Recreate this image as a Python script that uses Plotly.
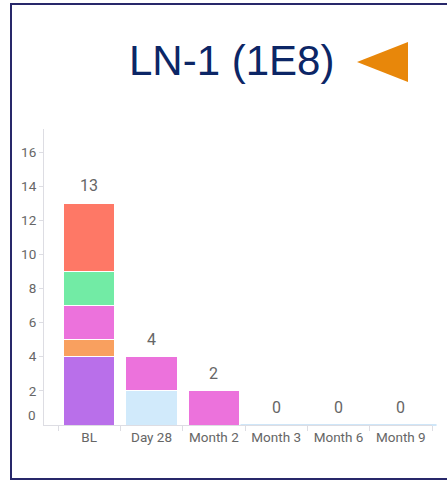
import plotly.graph_objects as go

categories = ["BL", "Day 28", "Month 2", "Month 3", "Month 6", "Month 9"]
light_blue = [None, 2, None, 0, 0, 0]
purple = [4, None, None, None, None, None]
orange = [1, None, None, None, None, None]
pink = [2, 2, 2, None, None, None]
green = [2, None, None, None, None, None]
coral = [4, None, None, None, None, None]
totals = [13, 4, 2, 0, 0, 0]
y_ticks = [2, 4, 6, 8, 10, 12, 14, 16]

series = [
    (light_blue, "#d1eafb"),
    (purple, "#b96fea"),
    (orange, "#f9a05f"),
    (pink, "#ec72dc"),
    (green, "#72eba5"),
    (coral, "#fe7866"),
]

fig = go.Figure()
for vals, col in series:
    fig.add_trace(go.Bar(x=categories, y=vals, marker=dict(color=col, line=dict(color="white", width=1)),
                         hoverinfo="skip", showlegend=False))

# zero-height light blue bars shown as a thin baseline stroke
zx = [c for c, v in zip(categories, light_blue) if v == 0]
zy = [v for v in light_blue if v == 0]
fig.add_trace(go.Scatter(x=zx, y=zy, mode="markers", hoverinfo="skip", showlegend=False, cliponaxis=False,
                         marker=dict(symbol="line-ew-open", size=51, color="#cfe6f8",
                                     line=dict(color="#cfe6f8", width=2))))

for c, t in zip(categories, totals):
    fig.add_annotation(x=c, y=t, text=str(t), showarrow=False, yanchor="bottom", yshift=6,
                       font=dict(family="Roboto", size=16, color="#666666"))

fig.add_annotation(xref="paper", x=0, y=0, text="0", showarrow=False, xanchor="right", xshift=-6,
                   yshift=10, font=dict(family="Roboto", size=13.5, color="#666666"))

# title
fig.add_annotation(xref="paper", yref="paper", x=(231 - 44) / 388, y=(425 - 60) / 296,
                   text="LN-1 (1E8)", showarrow=False, xanchor="center", yanchor="middle",
                   font=dict(family="Liberation Sans", size=42, color="#0c2666"))

# orange triangle
fig.add_shape(type="path", xref="paper", yref="paper",
              path="M %f %f L %f %f L %f %f Z" % ((357 - 44) / 388, (425 - 62) / 296,
                                                  (408 - 44) / 388, (425 - 42) / 296,
                                                  (408 - 44) / 388, (425 - 82) / 296),
              fillcolor="#e8870a", line=dict(width=0))

# frame
fig.add_shape(type="rect", xref="paper", yref="paper",
              x0=(11 - 44) / 388, x1=1.2, y0=(425 - 479) / 296, y1=(425 - 4) / 296,
              line=dict(color="#28286a", width=2), fillcolor="rgba(0,0,0,0)", layer="below")

fig.update_layout(
    barmode="stack", bargap=0.18,
    width=447, height=481,
    margin=dict(l=44, r=15, t=129, b=56),
    paper_bgcolor="white", plot_bgcolor="white",
    font=dict(family="Roboto", size=13.5, color="#666666"),
    xaxis=dict(type="category", range=[-0.725, 5.5], showline=True, linecolor="#dddde3", linewidth=1,
               ticks="outside", tickson="boundaries", ticklen=5, tickcolor="#dddde3",
               showgrid=False, tickfont=dict(size=13.5, color="#666666")),
    yaxis=dict(range=[0, 17.35], tickvals=y_ticks, showline=True, linecolor="#dddde3", linewidth=1,
               ticks="outside", ticklen=4, tickcolor="#dddde3", showgrid=False, zeroline=False,
               tickfont=dict(size=13.5, color="#666666")),
)

fig.write_html("out.html", config={"displayModeBar": False},
               post_script="document.body.style.margin='0';")
